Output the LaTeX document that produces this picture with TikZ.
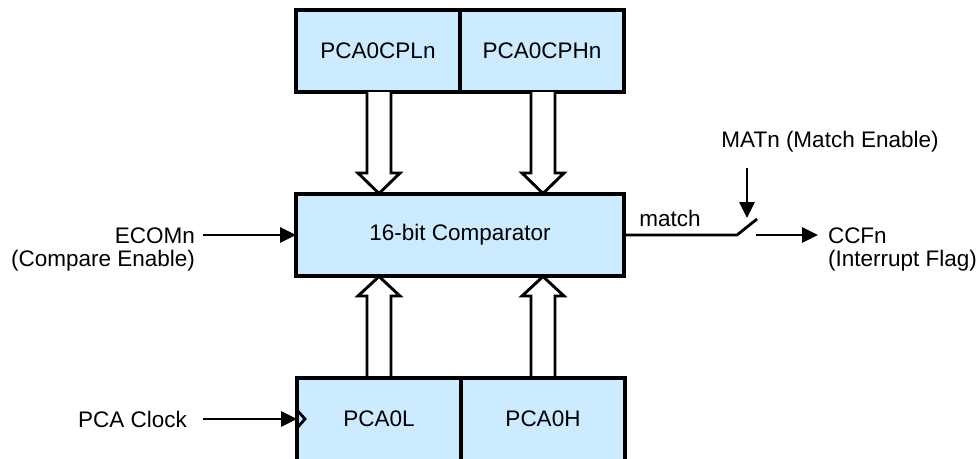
\documentclass[tikz,border=0pt]{standalone}
\usepackage{fontspec}
\setmainfont{Liberation Sans}
\usetikzlibrary{arrows.meta}
\definecolor{boxfill}{RGB}{204,235,255}
\begin{document}
\begin{tikzpicture}[x=1pt,y=-1pt,
  every node/.style={font=\fontsize{22.5}{27}\selectfont, inner sep=0pt, outer sep=0pt},
  reg/.style={draw, line width=3.1pt, fill=boxfill, minimum width=164pt, minimum height=82pt, anchor=north west},
  wire/.style={line width=2.8pt},
  sig/.style={wire, -{Triangle[length=16pt,width=15pt]}},
  wide/.style={draw, line width=2.9pt, fill=white, line join=miter}]
\useasboundingbox (0,0) rectangle (980,458);
% top registers
\node[reg] (cpl) at (296,10) {PCA0CPLn};
\node[reg] (cph) at (460,10) {PCA0CPHn};
% comparator
\node[reg, minimum width=328pt, minimum height=82pt] (cmp) at (296,194) {16-bit Comparator};
% bottom registers
\node[reg, minimum height=100pt] (pl) at (297,378) {};
\node[reg, minimum height=100pt] (ph) at (461,378) {};
\node at (379,419) (plt) {PCA0L};
\node at (543,419) (pht) {PCA0H};
% wide arrows down
\foreach \c in {379,543}{
  \draw[wide] (\c-12,92) -- (\c-12,173) -- (\c-21,173) -- (\c,193.5) -- (\c+21,173) -- (\c+12,173) -- (\c+12,92);
}
% wide arrows up
\foreach \c in {379,543}{
  \draw[wide] (\c-12,378) -- (\c-12,296) -- (\c-21,296) -- (\c,276.5) -- (\c+21,296) -- (\c+12,296) -- (\c+12,378);
}
% redraw comparator and bottom border on top
\draw[line width=3.1pt] (cmp.north west) rectangle (cmp.south east);
\draw[line width=3.1pt] (297,378) -- (625,378);
% clock chevron
\draw[line width=2.8pt, line join=miter] (297,410) -- (305,419) -- (297,428);
% ECOMn
\node[anchor=east] (ecom) at (195,236) {ECOMn};
\node[anchor=north east] (ecom2) at (195,250) {(Compare Enable)};
\coordinate (e0) at (203,235);
\draw[sig] (e0) -- (cmp.west);
% PCA clock
\node[anchor=east] (clk) at (187,419) {PCA Clock};
\coordinate (k0) at (203,419);
\draw[sig] (k0) -- (297,419);
% match
\coordinate (sw) at (737,235);
\coordinate (swt) at (757,219);
\draw[wire] (cmp.east) -- (sw) -- (swt);
\node[anchor=south] (matchl) at (670,227) {match};
\node (mat) at (830,142) {MATn (Match Enable)};
\coordinate (m0) at (747,168);
\coordinate (m1) at (747,218);
\draw[sig] (m0) -- (m1);
\coordinate (o0) at (756,235);
\coordinate (o1) at (818,235);
\node[anchor=west] (ccf) at (828,236) {CCFn};
\node[anchor=north west] (ccf2) at (828,250) {(Interrupt Flag)};
\draw[sig] (o0) -- (o1);
\end{tikzpicture}
\end{document}
